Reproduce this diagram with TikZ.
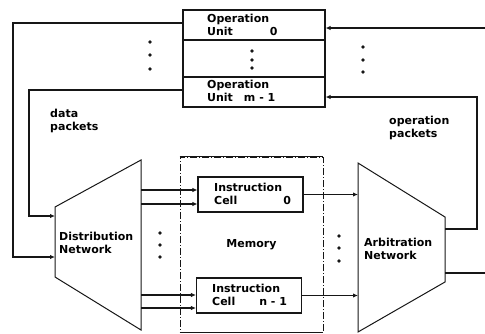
\documentclass[tikz,border=0pt]{standalone}
\usepackage{fontspec}
\setmainfont{DejaVu Sans}
\usetikzlibrary{arrows.meta, positioning, calc}
\definecolor{inkBlack}{RGB}{22,22,22}
\tikzset{
    unitbox/.style={
        rectangle,
        draw=inkBlack,
        line width=1.2pt,
        minimum width=142pt,
        minimum height=30pt,
        inner sep=0pt
    },
    cellbox/.style={
        rectangle,
        draw=inkBlack,
        line width=1.1pt,
        minimum width=105pt,
        minimum height=35pt,
        inner sep=0pt
    },
    memframe/.style={
        rectangle,
        draw=inkBlack,
        line width=0.8pt,
        dash pattern=on 7pt off 2pt on 1pt off 2pt,
        minimum width=143pt,
        minimum height=175pt,
        inner sep=0pt,
        font=\bfseries\fontsize{11}{13.5}\selectfont
    },
    netshape/.style={draw=inkBlack, line width=1pt},
    txt/.style={anchor=west, align=left, inner sep=0pt, font=\bfseries\fontsize{11}{13.5}\selectfont},
    flowarrow/.style={-{Latex[length=5pt,width=4.5pt]}, line width=1.2pt, draw=inkBlack},
    flowline/.style={line width=1.2pt, draw=inkBlack},
    dotmark/.style={circle, fill=inkBlack, inner sep=0pt, minimum size=3.8pt}
}
\begin{document}
\begin{tikzpicture}[x=1pt,y=-1pt]
    \useasboundingbox (0,0) rectangle (485,333);

    % operation units
    \node[unitbox] (opu0) at (254,25) {};
    \node[unitbox, minimum height=37pt] (opdots) at (254,58.5) {};
    \node[unitbox] (opum) at (254,92) {};
    \node[txt] (opu0txt) at (207,25) {Operation\\Unit\hspace{37pt}0};
    \node[txt] (opumtxt) at (207,91) {Operation\\Unit\hspace{11pt}m - 1};

    % memory with instruction cells
    \node[memframe] (memory) at (251.5,244.5) {Memory};
    \draw[flowline] (memory.north west) -- (memory.north east);
    \draw[flowline] (memory.south west) -- (memory.south east);
    \node[cellbox, fill=white] (cell0) at (250.5,194.5) {};
    \node[cellbox, fill=white] (cellN) at (249,295.5) {};
    \node[txt] (cell0txt) at (214,194) {Instruction\\Cell\hspace{46pt}0};
    \node[txt] (cellNtxt) at (212,295) {Instruction\\Cell\hspace{24pt}n - 1};

    % distribution network
    \coordinate (dnTL) at (55,207);
    \coordinate (dnTR) at (141,160);
    \coordinate (dnBR) at (141,330);
    \coordinate (dnBL) at (55,277);
    \draw[netshape] (dnTL) -- (dnTR) -- (dnBR) -- (dnBL) -- cycle;
    \node[txt] (dntxt) at (59,243) {Distribution\\Network};

    % arbitration network
    \coordinate (anTL) at (358,163);
    \coordinate (anTR) at (445,217);
    \coordinate (anBR) at (445,282);
    \coordinate (anBL) at (358,332);
    \draw[netshape] (anTL) -- (anTR) -- (anBR) -- (anBL) -- cycle;
    \node[txt] (antxt) at (364,249) {Arbitration\\Network};

    \node[txt] (datatxt) at (50,121) {data\\packets};
    \node[txt] (opertxt) at (389,128) {operation\\packets};

    % data packets back to the distribution network
    \coordinate (dnIn1) at (55,216);
    \coordinate (dnIn2) at (55,257);
    \coordinate (lpInner) at (29,216);
    \coordinate (lpOuter) at (13,257);
    \draw[flowarrow] ([yshift=2pt]opu0.west) -| (lpOuter) -- (dnIn2);
    \draw[flowarrow] ([yshift=2pt]opum.west) -| (lpInner) -- (dnIn1);

    % distribution network to cells
    \coordinate (c0a) at ([yshift=4.5pt]cell0.west);
    \coordinate (c0b) at ([yshift=-9.5pt]cell0.west);
    \coordinate (cNa) at ([yshift=0.5pt]cellN.west);
    \coordinate (cNb) at ([yshift=-12.5pt]cellN.west);
    \draw[flowarrow, line width=1.7pt] (c0a -| dnTR) -- (c0a);
    \draw[flowarrow] (c0b -| dnTR) -- (c0b);
    \draw[flowarrow, line width=1.7pt] (cNa -| dnTR) -- (cNa);
    \draw[flowarrow] (cNb -| dnTR) -- (cNb);

    % cells to arbitration network
    \draw[flowarrow] (cell0.east) -- (cell0.east -| anTL);
    \draw[flowarrow, line width=1.6pt] (cellN.east) -- (cellN.east -| anTL);

    % operation packets to the units
    \coordinate (anOut1) at (445,229);
    \coordinate (anOut2) at (445,273);
    \coordinate (rpInner) at (477,229);
    \coordinate (rpOuter) at (485,273);
    \coordinate (rpTop) at (485,28);
    \draw[flowarrow] (anOut1) -- (rpInner) |- ([yshift=-5pt]opum.east);
    \draw[flowline, line width=1.6pt] (anOut2) -- (rpOuter);
    \draw[flowarrow] (rpTop) -- ([yshift=-3pt]opu0.east);

    % ellipsis dots
    \foreach \x/\y [count=\n] in {252/51, 252/60, 252/68, 150/42, 150/55, 150/69, 363/47, 363/60, 363/72, 160/233, 160/245, 160/257, 339/236, 339/248, 339/261} {
        \node[dotmark] (dot\n) at (\x,\y) {};
    }
\end{tikzpicture}
\end{document}
